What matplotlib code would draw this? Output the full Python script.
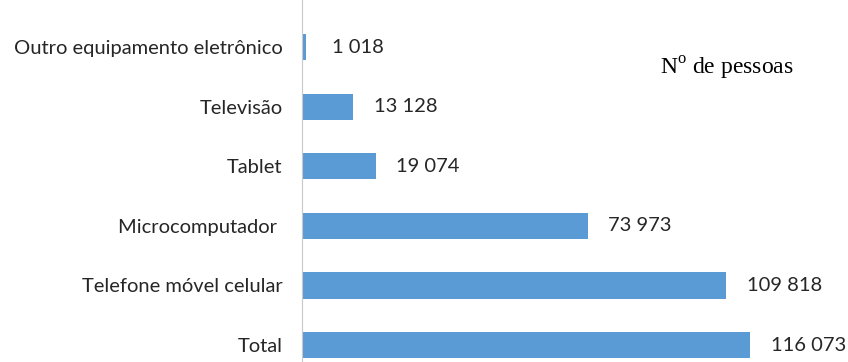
import matplotlib.pyplot as plt

categorias = ["Total", "Telefone móvel celular", "Microcomputador ", "Tablet",
              "Televisão", "Outro equipamento eletrônico"]
pessoas = [116073, 109818, 73973, 19074, 13128, 1018]
rotulos = ["116 073", "109 818", "73 973", "19 074", "13 128", "1 018"]

plt.rcParams['font.family'] = ['Lato', 'DejaVu Sans']
plt.rcParams['mathtext.fontset'] = 'custom'
plt.rcParams['mathtext.rm'] = 'Liberation Serif'

fig = plt.figure(figsize=(8.48, 3.62), dpi=100)
ax = fig.add_axes([302 / 848, 0, 1 - 302 / 848, 1])

pos = list(range(len(categorias)))
ax.barh(pos, pessoas, height=0.44, color="#5b9bd5")

for p, v, r in zip(pos, pessoas, rotulos):
    off = 15 if v > 5000 else 19
    ax.annotate(r, (v, p), xytext=(off, 0), textcoords="offset points",
                va="center", ha="left", fontsize=14.5, color="#262626")

ax.set_xlim(0, 141466)
ax.set_ylim(-0.285, 5.79)
ax.set_yticks(pos)
ax.set_yticklabels(categorias, fontsize=14.5, color="#262626")
ax.tick_params(axis="y", length=0, pad=14)
ax.set_xticks([])
for s in ["top", "right", "bottom"]:
    ax.spines[s].set_visible(False)
ax.spines["left"].set_color("#c8c8c8")

fig.text(727 / 848, 1 - 68 / 362, r"N$^\mathrm{o}$ de pessoas", ha="center",
         va="center", fontsize=17, family="Liberation Serif", color="black")

fig.savefig("out.png", dpi=100)
